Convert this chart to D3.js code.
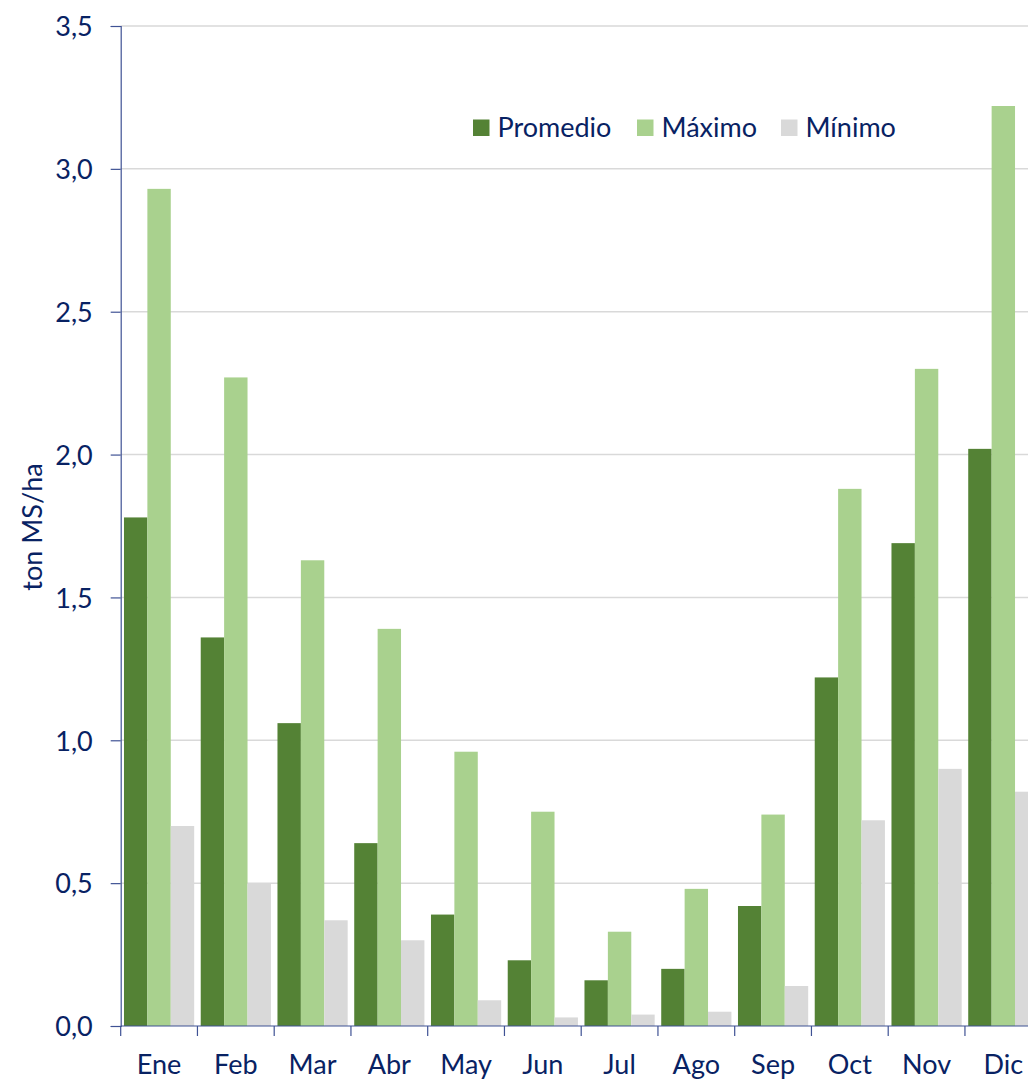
<!DOCTYPE html>
<html>
<head>
<meta charset="utf-8">
<script src="https://cdn.jsdelivr.net/npm/d3@7"></script>
<style>
  html, body { margin: 0; padding: 0; background: #fff; overflow: hidden; }
  svg { display: block; font-family: Lato, "Open Sans", sans-serif; }
</style>
</head>
<body>
<svg id="chart" width="1028" height="1079"></svg>
<script>
// Monthly dry-matter production (ton MS/ha)
const months = ["Ene", "Feb", "Mar", "Abr", "May", "Jun", "Jul", "Ago", "Sep", "Oct", "Nov", "Dic"];
const promedio = [1.78, 1.36, 1.06, 0.64, 0.39, 0.23, 0.16, 0.20, 0.42, 1.22, 1.69, 2.02];
const maximo   = [2.93, 2.27, 1.63, 1.39, 0.96, 0.75, 0.33, 0.48, 0.74, 1.88, 2.30, 3.22];
const minimo   = [0.70, 0.50, 0.37, 0.30, 0.09, 0.03, 0.04, 0.05, 0.14, 0.72, 0.90, 0.82];
const seriesNames = ["Promedio", "Máximo", "Mínimo"];
const seriesColors = ["#548235", "#A9D18E", "#D9D9D9"];
const yTicks = [0, 0.5, 1.0, 1.5, 2.0, 2.5, 3.0, 3.5];
const yTitle = "ton MS/ha";

const seriesValues = [promedio, maximo, minimo];
const textColor = "#082263";
const axisColor = "#3F5294";
const fontSize = 27;

const svg = d3.select("#chart");
const plotLeft = 120.7, plotTop = 26, plotBottom = 1026;
const step = 76.75;
const plotRight = plotLeft + step * months.length;

const x = d3.scaleBand().domain(months).range([plotLeft, plotRight]).paddingInner(0).paddingOuter(0);
const xs = d3.scaleBand().domain(seriesNames).range([0, x.bandwidth()]).paddingInner(0).paddingOuter(0.14);
const y = d3.scaleLinear().domain([0, 3.5]).range([plotBottom, plotTop]);

// horizontal gridlines
svg.append("g")
  .selectAll("line")
  .data(yTicks.filter(d => d > 0))
  .join("line")
  .attr("x1", plotLeft).attr("x2", 1028)
  .attr("y1", d => y(d)).attr("y2", d => y(d))
  .attr("stroke", "#D9D9D9").attr("stroke-width", 1.5);

// bars
const rows = months.map((m, i) => ({ month: m, vals: seriesNames.map((s, k) => ({ s, k, v: seriesValues[k][i] })) }));
svg.append("g")
  .selectAll("g")
  .data(rows)
  .join("g")
  .attr("transform", d => `translate(${x(d.month)},0)`)
  .selectAll("rect")
  .data(d => d.vals)
  .join("rect")
  .attr("x", d => xs(d.s))
  .attr("width", xs.bandwidth())
  .attr("y", d => y(d.v))
  .attr("height", d => y(0) - y(d.v))
  .attr("fill", d => seriesColors[d.k]);

// y axis
const yAxis = d3.axisLeft(y)
  .tickValues(yTicks)
  .tickFormat(d => d3.format(".1f")(d).replace(".", ","))
  .tickSize(10)
  .tickPadding(18);
const gy = svg.append("g").attr("transform", `translate(${plotLeft},0)`).call(yAxis);
gy.select(".domain").attr("stroke", axisColor).attr("stroke-width", 1.2);
gy.selectAll(".tick line").attr("stroke", axisColor).attr("stroke-width", 1.2);
gy.selectAll(".tick text").attr("fill", textColor).attr("font-size", fontSize)
  .attr("font-family", "Lato, sans-serif").attr("dy", "0.36em");

// x axis: ticks at category boundaries
svg.append("line")
  .attr("x1", plotLeft).attr("x2", 1028)
  .attr("y1", plotBottom).attr("y2", plotBottom)
  .attr("stroke", axisColor).attr("stroke-width", 1.2);
svg.append("g")
  .selectAll("line")
  .data(months)
  .join("line")
  .attr("x1", d => x(d)).attr("x2", d => x(d))
  .attr("y1", plotBottom).attr("y2", plotBottom + 10)
  .attr("stroke", axisColor).attr("stroke-width", 1.2);
svg.append("g")
  .selectAll("text")
  .data(months)
  .join("text")
  .attr("x", d => x(d) + x.bandwidth() / 2)
  .attr("y", 1074)
  .attr("text-anchor", "middle")
  .attr("fill", textColor)
  .attr("font-size", fontSize)
  .text(d => d);

// y title
svg.append("text")
  .attr("transform", `translate(42,527) rotate(-90)`)
  .attr("text-anchor", "middle")
  .attr("fill", textColor)
  .attr("font-size", fontSize)
  .text(yTitle);

// legend
const legendX = [473, 637, 781];
const lg = svg.append("g");
seriesNames.forEach((s, k) => {
  lg.append("rect")
    .attr("x", legendX[k]).attr("y", 119.5)
    .attr("width", 16.5).attr("height", 16.5)
    .attr("fill", seriesColors[k]);
  lg.append("text")
    .attr("x", legendX[k] + 24.5).attr("y", 136.5)
    .attr("fill", textColor)
    .attr("font-size", fontSize)
    .text(s);
});
</script>
</body>
</html>
